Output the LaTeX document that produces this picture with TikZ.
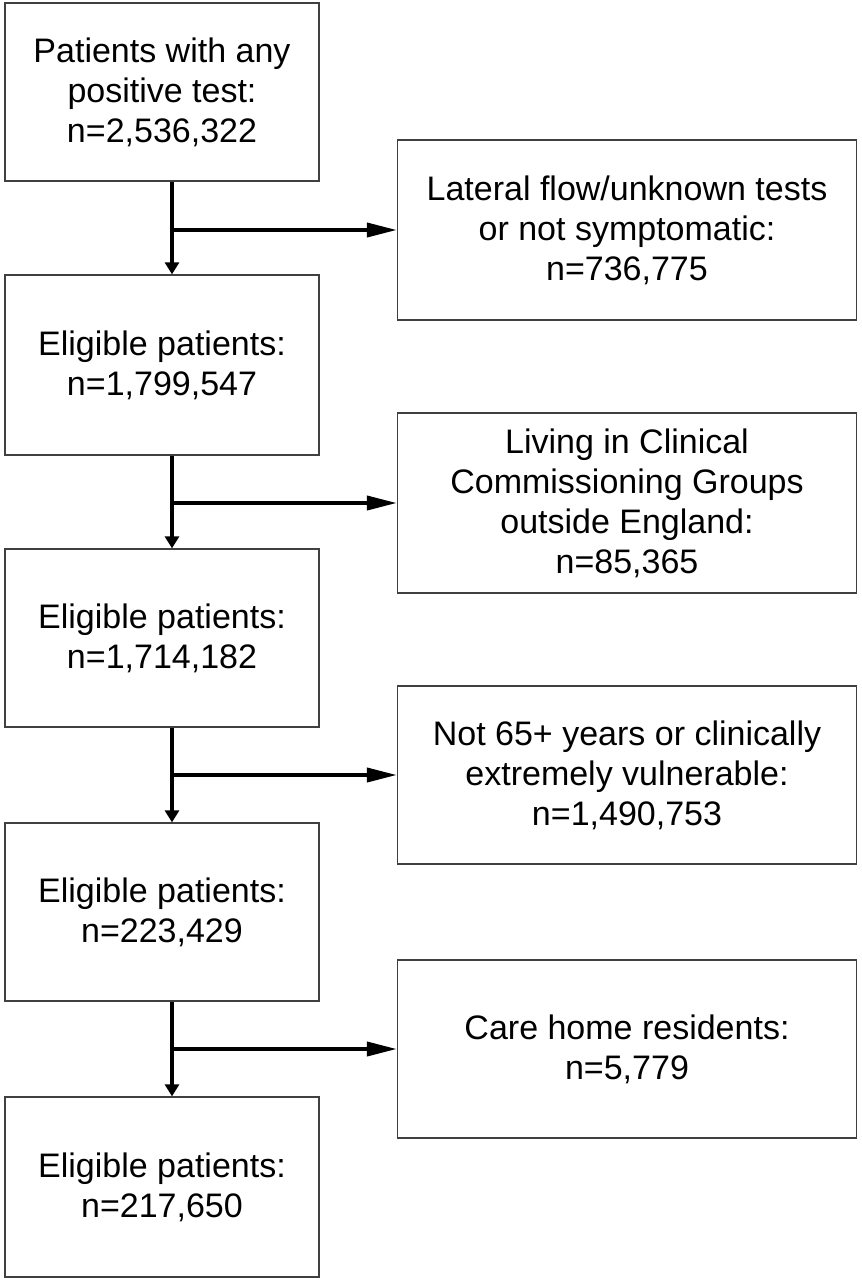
\documentclass[tikz,border=0pt]{standalone}
\usepackage{fontspec}
\setmainfont{Liberation Sans}
\usetikzlibrary{arrows.meta}
\begin{document}
\begin{tikzpicture}[x=1pt,y=-1pt,
  box/.style={draw=black!75,line width=1.3pt,align=center,inner sep=0pt,font=\fontsize{34}{40}\selectfont},
  flow/.style={line width=3.8pt,-{Triangle[length=30pt,width=14pt]}},
  down/.style={line width=3.8pt,-{Triangle[length=12pt,width=14pt]}}]
\useasboundingbox[fill=white] (0,0) rectangle (862,1280);
\node[box,minimum width=314pt,minimum height=178pt] (b1) at (162,92) {Patients with any\\positive test:\\n=2,536,322};
\node[box,minimum width=314pt,minimum height=180pt] (b2) at (162,365) {Eligible patients:\\n=1,799,547};
\node[box,minimum width=314pt,minimum height=178pt] (b3) at (162,638) {Eligible patients:\\n=1,714,182};
\node[box,minimum width=314pt,minimum height=178pt] (b4) at (162,912) {Eligible patients:\\n=223,429};
\node[box,minimum width=314pt,minimum height=180pt] (b5) at (162,1187) {Eligible patients:\\n=217,650};
\node[box,minimum width=459pt,minimum height=180pt] (r1) at (627,230) {Lateral flow/unknown tests\\or not symptomatic:\\n=736,775};
\node[box,minimum width=459pt,minimum height=180pt] (r2) at (627,503) {Living in Clinical\\Commissioning Groups\\outside England:\\n=85,365};
\node[box,minimum width=459pt,minimum height=178pt] (r3) at (627,775) {Not 65+ years or clinically\\extremely vulnerable:\\n=1,490,753};
\node[box,minimum width=459pt,minimum height=178pt] (r4) at (627,1049) {Care home residents:\\n=5,779};
\foreach \a/\b/\r in {b1/b2/r1,b2/b3/r2,b3/b4/r3,b4/b5/r4}{
  \draw[down] (\a.south -| 172,0) -- (\b.north -| 172,0);
  \draw[flow] (\r.west -| 172,0) -- (\r.west);
}
\end{tikzpicture}
\end{document}
